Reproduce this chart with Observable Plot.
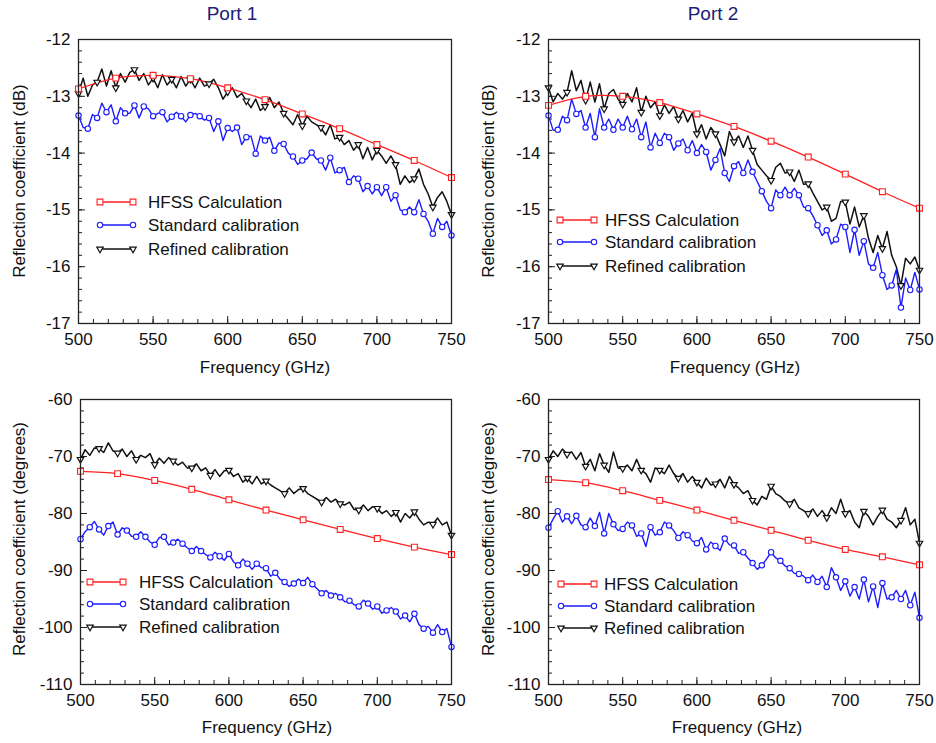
<!DOCTYPE html>
<html><head><meta charset="utf-8">
<script src="https://cdn.jsdelivr.net/npm/d3@7"></script>
<script src="https://cdn.jsdelivr.net/npm/@observablehq/plot@0.6"></script>
<style>
body{margin:0;background:#fff;font-family:"Liberation Sans",Arial,sans-serif;}
#root{position:relative;width:936px;height:743px;overflow:hidden;background:#fff;}
.abs{position:absolute;}
.title{position:absolute;font-size:19px;color:#1c1c7a;transform:translate(-50%,-50%);white-space:nowrap;}
.xlab{position:absolute;font-size:17px;color:#111;transform:translate(-50%,-50%);white-space:nowrap;}
.ylab{position:absolute;font-size:17px;color:#111;transform:translate(-50%,-50%) rotate(-90deg);white-space:nowrap;}
.legtxt{position:absolute;font-size:17px;color:#111;transform:translateY(-50%);white-space:nowrap;line-height:1;}
</style>
</head><body><div id="root"></div>
<script>
// ---------- data ----------
const freqGHz = [500,503.125,506.25,509.375,512.5,515.625,518.75,521.875,525,528.125,531.25,534.375,537.5,540.625,543.75,546.875,
550,553.125,556.25,559.375,562.5,565.625,568.75,571.875,575,578.125,581.25,584.375,587.5,590.625,593.75,596.875,
600,603.125,606.25,609.375,612.5,615.625,618.75,621.875,625,628.125,631.25,634.375,637.5,640.625,643.75,646.875,
650,653.125,656.25,659.375,662.5,665.625,668.75,671.875,675,678.125,681.25,684.375,687.5,690.625,693.75,696.875,
700,703.125,706.25,709.375,712.5,715.625,718.75,721.875,725,728.125,731.25,734.375,737.5,740.625,743.75,746.875,750];
const hfssFreqGHz = [500,525,550,575,600,625,650,675,700,725,750];

const freqTicks = [500,550,600,650,700,750];
const dBTicks = [-17,-16,-15,-14,-13,-12];
const degTicks = [-110,-100,-90,-80,-70,-60];
const seriesNames = ["HFSS Calculation","Standard calibration","Refined calibration"];
const panelTitles = ["Port 1","Port 2"];
const yLabels = ["Reflection coefficient (dB)","Reflection coefficient (degrees)"];
const xLabel = "Frequency (GHz)";

// Port 1, magnitude (dB)
const p1HfssDB = [-12.87,-12.68,-12.63,-12.69,-12.85,-13.06,-13.31,-13.57,-13.85,-14.13,-14.43];
const p1StandardDB = [-13.34,-13.55,-13.57,-13.32,-13.38,-13.12,-13.28,-13.15,-13.44,-13.2,-13.3,-13.3,-13.16,-13.38,-13.18,-13.22,
-13.35,-13.3,-13.28,-13.45,-13.36,-13.28,-13.35,-13.45,-13.33,-13.3,-13.35,-13.42,-13.38,-13.62,-13.44,-13.78,
-13.56,-13.62,-13.55,-13.85,-13.72,-13.7,-14.01,-13.7,-13.78,-13.72,-13.96,-13.82,-13.84,-14.0,-14.06,-14.2,
-14.13,-14.1,-13.99,-14.1,-14.13,-14.3,-14.08,-14.35,-14.3,-14.25,-14.51,-14.4,-14.45,-14.68,-14.58,-14.72,
-14.6,-14.75,-14.6,-14.85,-14.74,-15.0,-15.04,-14.95,-15.04,-14.82,-15.07,-15.2,-15.42,-15.15,-15.3,-15.2,-15.45];
const p1RefinedDB = [-12.95,-12.68,-13.0,-12.8,-12.75,-12.52,-12.82,-12.55,-12.85,-12.6,-12.75,-12.58,-12.53,-12.72,-12.6,-12.8,
-12.68,-12.85,-12.62,-12.8,-12.7,-12.85,-12.65,-12.82,-12.7,-12.85,-12.68,-12.82,-12.78,-12.7,-12.85,-13.05,
-12.92,-12.85,-13.02,-12.95,-13.08,-13.2,-13.05,-13.25,-13.18,-13.02,-13.2,-13.1,-13.3,-13.4,-13.5,-13.32,
-13.52,-13.35,-13.45,-13.5,-13.55,-13.68,-13.5,-13.75,-13.72,-13.85,-13.78,-13.95,-13.85,-14.1,-13.9,-14.12,
-13.95,-14.05,-14.18,-14.05,-14.2,-14.55,-14.4,-14.52,-14.45,-14.28,-14.55,-14.72,-14.95,-14.78,-14.68,-14.85,-15.08];

// Port 2, magnitude (dB)
const p2HfssDB = [-13.16,-13.0,-13.0,-13.11,-13.31,-13.53,-13.79,-14.07,-14.37,-14.68,-14.97];
const p2StandardDB = [-13.34,-13.6,-13.59,-13.35,-13.42,-13.05,-13.31,-13.25,-13.55,-13.3,-13.72,-13.22,-13.55,-13.4,-13.59,-13.4,
-13.55,-13.35,-13.58,-13.4,-13.72,-13.45,-13.9,-13.65,-13.82,-13.65,-13.72,-13.95,-13.83,-13.75,-13.95,-13.78,
-14.0,-13.85,-13.98,-14.3,-14.12,-13.92,-14.35,-14.5,-14.23,-14.15,-14.35,-14.12,-14.33,-14.5,-14.67,-14.85,
-14.97,-14.65,-14.74,-14.6,-14.74,-14.62,-14.74,-14.95,-14.97,-15.1,-15.27,-15.45,-15.36,-15.6,-15.52,-15.25,
-15.3,-15.75,-15.35,-15.8,-15.55,-15.95,-16.02,-15.75,-16.15,-16.4,-16.33,-16.05,-16.72,-16.2,-16.41,-16.1,-16.4];
const p2RefinedDB = [-12.85,-13.1,-12.95,-13.05,-12.93,-12.55,-12.9,-12.72,-13.07,-12.75,-13.1,-12.78,-13.22,-12.95,-12.88,-13.05,
-13.14,-12.95,-13.1,-12.85,-13.28,-13.0,-13.2,-13.1,-13.34,-13.15,-13.3,-13.18,-13.4,-13.25,-13.45,-13.3,
-13.66,-13.5,-13.75,-13.55,-13.66,-13.85,-14.05,-13.62,-13.8,-13.7,-13.9,-13.7,-13.95,-14.2,-14.3,-14.4,
-14.48,-14.25,-14.18,-14.35,-14.33,-14.5,-14.3,-14.55,-14.54,-14.7,-14.85,-15.0,-14.95,-15.2,-15.15,-14.85,
-14.86,-15.25,-14.95,-15.3,-15.1,-15.5,-15.75,-15.45,-15.68,-15.38,-15.8,-16.0,-16.33,-15.85,-15.95,-15.83,-16.06];

// Port 1, phase (degrees)
const p1HfssDeg = [-72.6,-73.0,-74.2,-75.75,-77.6,-79.4,-81.1,-82.8,-84.4,-85.9,-87.2];
const p1StandardDeg = [-84.5,-83.2,-82.4,-81.4,-82.8,-83.8,-82.2,-81.5,-83.7,-82.5,-83.0,-84.0,-84.1,-83.2,-84.1,-85.0,
-85.5,-84.2,-84.1,-85.5,-85.1,-84.5,-85.3,-86.0,-86.6,-85.8,-86.6,-87.2,-87.7,-86.8,-87.5,-88.2,
-87.1,-88.5,-89.1,-88.0,-88.8,-89.8,-88.8,-89.5,-89.6,-91.0,-90.4,-91.5,-92.0,-92.8,-92.3,-91.5,
-92.2,-91.2,-92.4,-93.2,-94.0,-93.5,-94.4,-94.0,-94.7,-95.5,-95.3,-96.0,-96.3,-95.2,-95.8,-96.8,
-96.3,-97.5,-97.0,-96.5,-97.2,-98.5,-97.9,-99.0,-97.6,-99.5,-100.2,-99.8,-100.9,-99.5,-100.8,-100.2,-103.4];
const p1RefinedDeg = [-70.5,-68.8,-69.8,-68.5,-68.6,-69.3,-67.6,-69.0,-69.4,-68.7,-70.0,-69.0,-70.5,-69.8,-70.2,-69.5,
-71.4,-70.3,-71.2,-70.2,-70.8,-71.5,-71.0,-72.0,-72.0,-71.3,-72.5,-72.0,-73.3,-72.3,-73.5,-72.5,
-72.4,-73.5,-73.0,-74.5,-73.8,-74.8,-73.5,-74.8,-74.3,-75.0,-75.5,-76.0,-76.5,-75.5,-76.5,-75.8,
-75.6,-76.5,-77.0,-77.5,-78.0,-77.2,-78.0,-77.5,-78.3,-78.5,-78.0,-79.3,-79.4,-78.5,-79.5,-78.8,
-79.1,-80.0,-79.5,-80.5,-79.8,-81.5,-80.0,-80.8,-79.7,-81.0,-82.0,-81.5,-81.9,-80.8,-82.0,-81.5,-83.8];

// Port 2, phase (degrees)
const p2HfssDeg = [-74.05,-74.6,-76.0,-77.7,-79.4,-81.2,-82.95,-84.7,-86.3,-87.6,-89.0];
const p2StandardDeg = [-82.5,-81.0,-79.6,-81.5,-80.5,-81.8,-80.4,-82.0,-82.4,-80.8,-82.2,-79.8,-83.5,-80.0,-81.9,-83.0,
-82.7,-81.5,-82.1,-84.0,-83.5,-85.8,-82.4,-83.8,-83.3,-81.5,-82.1,-83.0,-84.3,-83.2,-83.8,-84.8,
-85.2,-84.2,-86.3,-85.0,-85.7,-86.5,-84.4,-85.5,-85.6,-87.0,-86.8,-87.8,-88.7,-89.8,-89.1,-88.0,
-86.8,-87.8,-88.3,-89.2,-89.6,-90.5,-90.6,-91.0,-91.7,-90.8,-92.0,-91.0,-92.9,-89.5,-91.2,-93.5,
-91.9,-94.5,-92.9,-95.0,-91.6,-95.5,-92.8,-96.5,-92.2,-95.0,-94.7,-93.5,-95.0,-93.5,-96.1,-93.8,-98.3];
const p2RefinedDeg = [-70.5,-69.0,-70.0,-68.7,-69.6,-69.2,-70.5,-69.3,-71.7,-70.5,-72.5,-69.5,-71.5,-72.8,-69.2,-72.0,
-72.1,-71.5,-72.5,-70.5,-72.4,-73.0,-74.5,-72.0,-72.4,-73.0,-71.5,-73.0,-73.8,-73.0,-74.5,-73.5,
-74.5,-75.5,-73.8,-75.0,-74.8,-74.0,-75.5,-73.5,-74.9,-75.5,-76.5,-76.0,-77.7,-78.5,-77.0,-77.5,
-75.2,-76.5,-77.0,-77.8,-78.3,-77.5,-79.0,-79.5,-80.0,-79.2,-80.5,-79.5,-80.7,-79.0,-80.0,-77.5,
-80.0,-79.5,-81.5,-82.5,-79.6,-80.5,-82.0,-80.5,-79.4,-81.0,-81.5,-82.5,-81.2,-79.0,-82.0,-81.0,-85.2];

// ---------- styling ----------
const RED = "#ff2020", BLUE = "#1c1cff", BLACK = "#111111";
const FONT = "'Liberation Sans', Arial, sans-serif";
const R_SQ = 3.3, R_CI = 2.7, R_TRI = 2.4;

const panels = [
  {left:0,   top:0,   w:468, h:380, ml:78, mr:17, mt:39, mb:57, yDomain:[-17,-12], yTicks:dBTicks, yMinorStep:0.2,
   hfss:p1HfssDB, std:p1StandardDB, ref:p1RefinedDB, ylabel:yLabels[0], ylx:20, yly:181, xlx:265, xly:368,
   leg:{x1:100, x2:133, tx:148, ys:[202,225,249]}},
  {left:468, top:0,   w:468, h:380, ml:80, mr:17, mt:39, mb:57, yDomain:[-17,-12], yTicks:dBTicks, yMinorStep:0.2,
   hfss:p2HfssDB, std:p2StandardDB, ref:p2RefinedDB, ylabel:yLabels[0], ylx:489, yly:181, xlx:735, xly:368,
   leg:{x1:560, x2:594, tx:605, ys:[220,242,266]}},
  {left:0,   top:380, w:468, h:363, ml:80, mr:17, mt:19, mb:59, yDomain:[-110,-60], yTicks:degTicks, yMinorStep:2,
   hfss:p1HfssDeg, std:p1StandardDeg, ref:p1RefinedDeg, ylabel:yLabels[1], ylx:20, yly:539, xlx:267, xly:728,
   leg:{x1:90, x2:123, tx:139, ys:[582,604,627]}},
  {left:468, top:380, w:468, h:363, ml:80, mr:17, mt:19, mb:59, yDomain:[-110,-60], yTicks:degTicks, yMinorStep:2,
   hfss:p2HfssDeg, std:p2StandardDeg, ref:p2RefinedDeg, ylabel:yLabels[1], ylx:489, yly:539, xlx:737, xly:728,
   leg:{x1:561, x2:594, tx:604, ys:[584,606,628]}}
];

const root = document.getElementById("root");

function makePanel(c) {
  const pw = c.w - c.ml - c.mr, ph = c.h - c.mt - c.mb;
  const std = freqGHz.map((f, i) => ({f, v: c.std[i], i}));
  const ref = freqGHz.map((f, i) => ({f, v: c.ref[i], i}));
  const hf = hfssFreqGHz.map((f, i) => ({f, v: c.hfss[i]}));
  const yMinor = d3.range(c.yDomain[0], c.yDomain[1] + 1e-9, c.yMinorStep);
  const xMinor = d3.range(500, 750 + 1e-9, 10);
  const chart = Plot.plot({
    width: c.w, height: c.h,
    marginLeft: c.ml, marginRight: c.mr, marginTop: c.mt, marginBottom: c.mb,
    style: {fontSize: "17px", fontFamily: FONT, background: "transparent", color: "#111", overflow: "visible"},
    x: {domain: [500, 750]},
    y: {domain: c.yDomain},
    marks: [
      Plot.tickY(yMinor, {y: d => d, insetRight: pw - 4, stroke: "#222", strokeWidth: 1}),
      Plot.tickY(c.yTicks, {y: d => d, insetRight: pw - 7, stroke: "#222", strokeWidth: 1}),
      Plot.tickX(xMinor, {x: d => d, insetTop: ph - 4, stroke: "#222", strokeWidth: 1}),
      Plot.tickX(freqTicks, {x: d => d, insetTop: ph - 7, stroke: "#222", strokeWidth: 1}),
      Plot.line(ref, {x: "f", y: "v", stroke: BLACK, strokeWidth: 1.5}),
      Plot.line(std, {x: "f", y: "v", stroke: BLUE, strokeWidth: 1.4}),
      Plot.line(hf, {x: "f", y: "v", stroke: RED, strokeWidth: 1.3, curve: "catmull-rom"}),
      Plot.dot(ref.filter(d => d.i % 4 === 0), {x: "f", y: "v", symbol: "triangle", rotate: 180, r: R_TRI, stroke: BLACK, fill: "white", strokeWidth: 1.2}),
      Plot.dot(std.filter(d => d.i % 2 === 0), {x: "f", y: "v", symbol: "circle", r: R_CI, stroke: BLUE, fill: "white", strokeWidth: 1.1}),
      Plot.dot(hf, {x: "f", y: "v", symbol: "square", r: R_SQ, stroke: RED, fill: "white", strokeWidth: 1.1}),
      Plot.axisY(c.yTicks, {tickSize: 0, tickPadding: 8, label: null, tickFormat: d => String(d)}),
      Plot.axisX(freqTicks, {tickSize: 0, tickPadding: 9, label: null, tickFormat: d => String(d)}),
      Plot.frame({stroke: "#222", strokeWidth: 1.3})
    ]
  });
  const holder = document.createElement("div");
  holder.className = "abs";
  holder.style.left = c.left + "px";
  holder.style.top = c.top + "px";
  holder.appendChild(chart);
  root.appendChild(holder);

  // axis titles
  const xl = document.createElement("div");
  xl.className = "xlab"; xl.textContent = xLabel;
  xl.style.left = c.xlx + "px"; xl.style.top = c.xly + "px";
  root.appendChild(xl);
  const yl = document.createElement("div");
  yl.className = "ylab"; yl.textContent = c.ylabel;
  yl.style.left = c.ylx + "px"; yl.style.top = c.yly + "px";
  root.appendChild(yl);

  // legend
  const styles = [
    {color: RED, sym: d3.symbolSquare, size: Math.PI * R_SQ * R_SQ, rot: 0, sw: 1.1},
    {color: BLUE, sym: d3.symbolCircle, size: Math.PI * R_CI * R_CI, rot: 0, sw: 1.1},
    {color: BLACK, sym: d3.symbolTriangle, size: Math.PI * R_TRI * R_TRI, rot: 180, sw: 1.2}
  ];
  c.leg.ys.forEach((y, k) => {
    const s = styles[k];
    const w = c.leg.x2 - c.leg.x1 + 14;
    const svg = d3.select(root).append("svg").attr("class", "abs")
      .style("left", (c.leg.x1 - 7) + "px").style("top", (y - 7) + "px")
      .attr("width", w).attr("height", 14);
    svg.append("line").attr("x1", 7).attr("x2", w - 7).attr("y1", 7).attr("y2", 7)
      .attr("stroke", s.color).attr("stroke-width", 1.4);
    [7, w - 7].forEach(px => {
      svg.append("path").attr("d", d3.symbol(s.sym, s.size)())
        .attr("transform", `translate(${px},7) rotate(${s.rot})`)
        .attr("fill", "white").attr("stroke", s.color).attr("stroke-width", s.sw);
    });
    const t = document.createElement("div");
    t.className = "legtxt"; t.textContent = seriesNames[k];
    t.style.left = c.leg.tx + "px"; t.style.top = y + "px";
    root.appendChild(t);
  });
}

panels.forEach(makePanel);

[[232, 14], [713, 14]].forEach(([x, y], k) => {
  const t = document.createElement("div");
  t.className = "title"; t.textContent = panelTitles[k];
  t.style.left = x + "px"; t.style.top = y + "px";
  root.appendChild(t);
});
</script>
</body></html>
